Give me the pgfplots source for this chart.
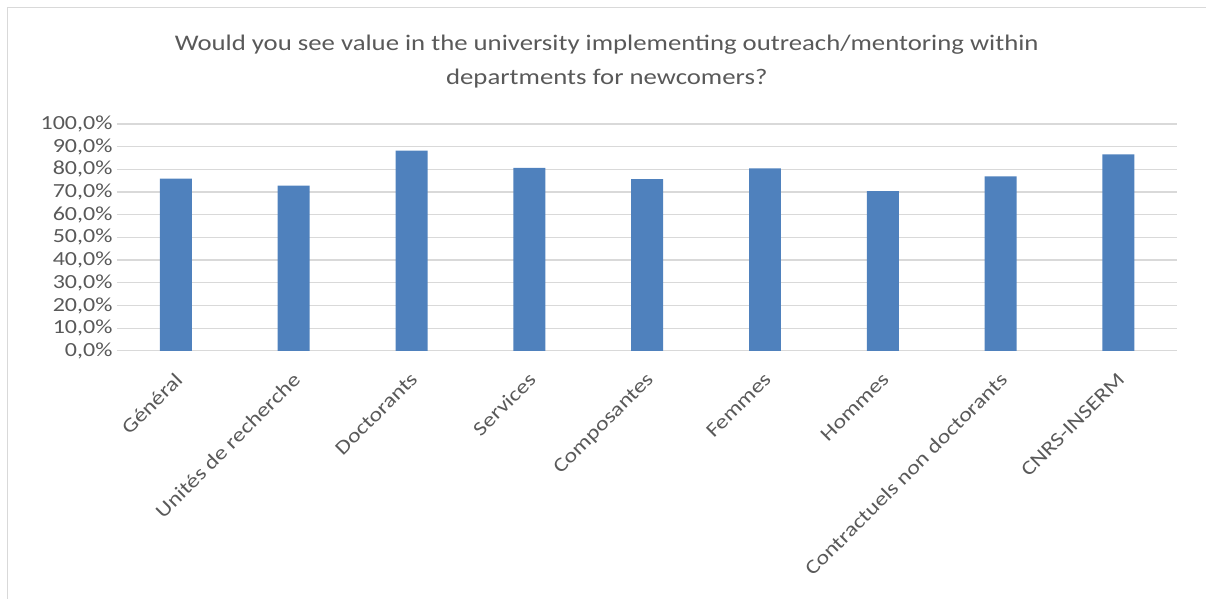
\documentclass[border=0pt]{standalone}
\usepackage{pgfplots}
\pgfplotsset{compat=1.18}
\usepackage{fontspec}
\setmainfont{Carlito}[FakeStretch=1.2]
\definecolor{barblue}{HTML}{4F81BD}
\definecolor{txtgray}{HTML}{595959}
\definecolor{gridgray}{HTML}{D9D9D9}

\begin{document}
\begin{tikzpicture}
% chart area and frame
\path (0,0) rectangle (1206bp,-599bp);
\draw[color=gridgray,line width=1bp] (8bp,-599bp) -- (8bp,-8bp) -- (1206bp,-8bp);
\node[color=txtgray,font=\fontsize{22.3bp}{34bp}\selectfont,align=center] at (607bp,-62bp)
  {Would you see value in the university implementing outreach/mentoring within\\departments for newcomers?};
\begin{axis}[
  at={(117bp,-351bp)}, anchor=south west,
  scale only axis, width=1061bp, height=227bp,
  ymin=0, ymax=100, ytick={0,10,...,100},
  xmin=-0.5, xmax=8.5, xtick=data,
  xticklabels={Général,Unités de recherche,Doctorants,Services,Composantes,Femmes,Hommes,Contractuels non doctorants,CNRS-INSERM},
  separate axis lines,
  axis x line*=bottom,
  x axis line style={-,color=gridgray,line width=1.2bp},
  y axis line style={draw=none},
  axis y line*=left,
  major tick length=0pt,
  ymajorgrids, grid style={color=gridgray,line width=1.2bp},
  /pgf/number format/.cd, fixed, fixed zerofill, precision=1, use comma, assume math mode=true,
  /pgfplots/.cd,
  yticklabel={\pgfmathprintnumber{\tick}\%},
  yticklabel style={color=txtgray,font=\fontsize{20bp}{22bp}\selectfont,xshift=-1bp},
  xticklabel style={color=txtgray,font=\fontsize{20bp}{22bp}\selectfont,rotate=45,anchor=north east,xshift=-12.4bp,yshift=-9.6bp},
  bar width=32bp,
]
\addplot[ybar, fill=barblue, draw=none] coordinates {
(0,75.9) (1,72.8) (2,88.2) (3,80.6) (4,75.7) (5,80.4) (6,70.4) (7,76.9) (8,86.6)};
\end{axis}
\end{tikzpicture}
\end{document}
